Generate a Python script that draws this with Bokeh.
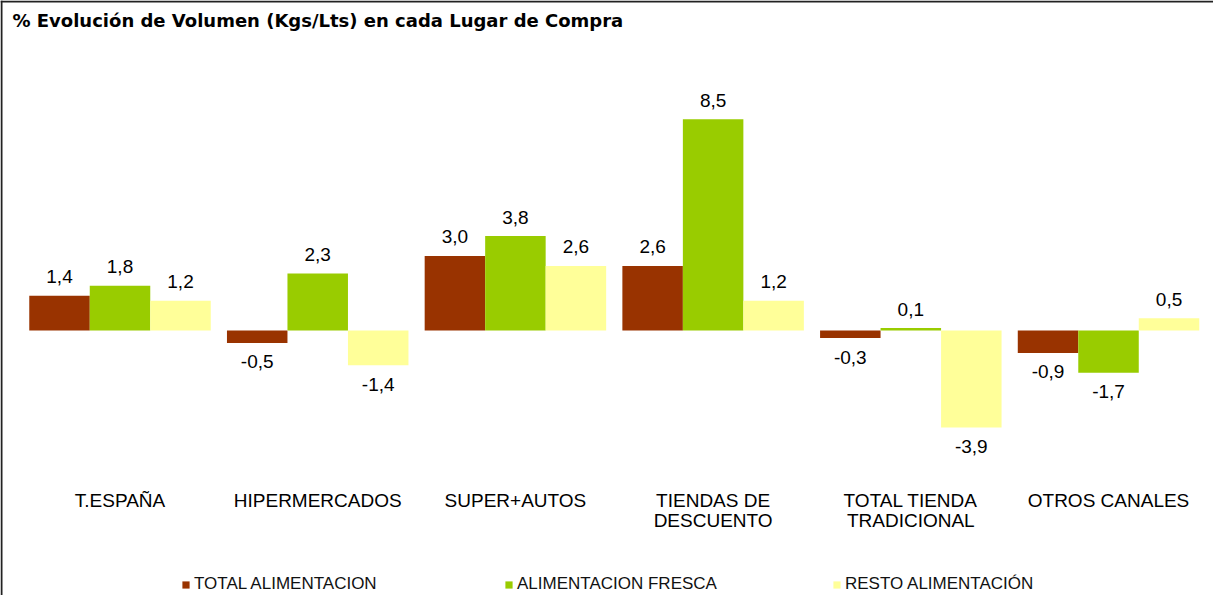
from bokeh.plotting import figure
from bokeh.models import ColumnDataSource, Label, Legend, LegendItem, Range1d, Span
from bokeh.core.properties import value
from bokeh.embed import file_html
from bokeh.resources import INLINE

title = "% Evolución de Volumen (Kgs/Lts) en cada Lugar de Compra"
categories = ["T.ESPAÑA", "HIPERMERCADOS", "SUPER+AUTOS", "TIENDAS DE\nDESCUENTO",
              "TOTAL TIENDA\nTRADICIONAL", "OTROS CANALES"]
series_names = ["TOTAL ALIMENTACION", "ALIMENTACION FRESCA", "RESTO ALIMENTACIÓN"]
total_alimentacion = [1.4, -0.5, 3.0, 2.6, -0.3, -0.9]
alimentacion_fresca = [1.8, 2.3, 3.8, 8.5, 0.1, -1.7]
resto_alimentacion = [1.2, -1.4, 2.6, 1.2, -3.9, 0.5]
colors = ["#993300", "#99CC00", "#FFFF99"]

FONT = "Liberation Sans"
W, H = 1213, 595
x0, x1 = -0.1045, 6.031
y0, y1 = -10.66, 13.28
ppu = H / (y1 - y0)  # pixels per data unit
ppx = W / (x1 - x0)

p = figure(width=W, height=H, output_backend="svg", toolbar_location=None,
           x_range=Range1d(x0, x1), y_range=Range1d(y0, y1),
           min_border=0, min_border_left=0, min_border_right=0,
           min_border_top=0, min_border_bottom=0)
p.axis.visible = False
p.grid.visible = False
p.outline_line_color = None
p.background_fill_color = "white"

# border on top and left (right/bottom fall outside the picture in the original)
p.add_layout(Span(location=y1 - 1.0 / ppu, dimension="width",
                  line_color="#222222", line_width=2))
p.add_layout(Span(location=x0 + 1.0 / ppx, dimension="height",
                  line_color="#222222", line_width=2))

bw = 0.306
offsets = [-bw, 0.0, bw]
all_series = [total_alimentacion, alimentacion_fresca, resto_alimentacion]
renderers = []
for vals, off, col in zip(all_series, offsets, colors):
    xs = [i + 0.5 + off for i in range(len(categories))]
    src = ColumnDataSource(dict(
        x=xs, top=vals,
        ly=[v + 19 / ppu if v >= 0 else v - 19 / ppu for v in vals],
        lbl=[f"{v:.1f}".replace(".", ",") for v in vals]))
    r = p.vbar(x="x", top="top", bottom=0, width=bw, source=src,
               fill_color=col, line_color=None)
    renderers.append(r)
    p.text(x="x", y="ly", text="lbl", source=src, text_align="center",
           text_baseline="middle", text_font=value(FONT),
           text_font_size="19px", text_color="#000000")

# category labels (split into lines)
cx, cy, ct = [], [], []
for i, c in enumerate(categories):
    for j, line in enumerate(c.split("\n")):
        cx.append(i + 0.5)
        cy.append(-(170 + 20 * j) / ppu)
        ct.append(line)
p.text(x=cx, y=cy, text=ct, text_align="center", text_baseline="middle",
       text_font=value(FONT), text_font_size="19px", text_color="#000000")

p.add_layout(Label(x=12, y=H - 20, x_units="screen", y_units="screen", text=title,
                   text_font="DejaVu Sans", text_font_size="18px", text_font_style="bold",
                   text_baseline="middle", text_color="#000000"))

legend_x = [181, 504, 832]
for name, r, lx in zip(series_names, renderers, legend_x):
    lg = Legend(items=[LegendItem(label=name, renderers=[r])], location=(lx, 1),
                orientation="horizontal", glyph_width=9, glyph_height=9,
                label_standoff=4, label_text_font=FONT, label_text_font_size="17px",
                label_text_color="#111111", padding=0, margin=0, spacing=0,
                background_fill_alpha=0, border_line_alpha=0, label_height=16)
    p.add_layout(lg)

open("out.html", "w").write(file_html(p, INLINE))
